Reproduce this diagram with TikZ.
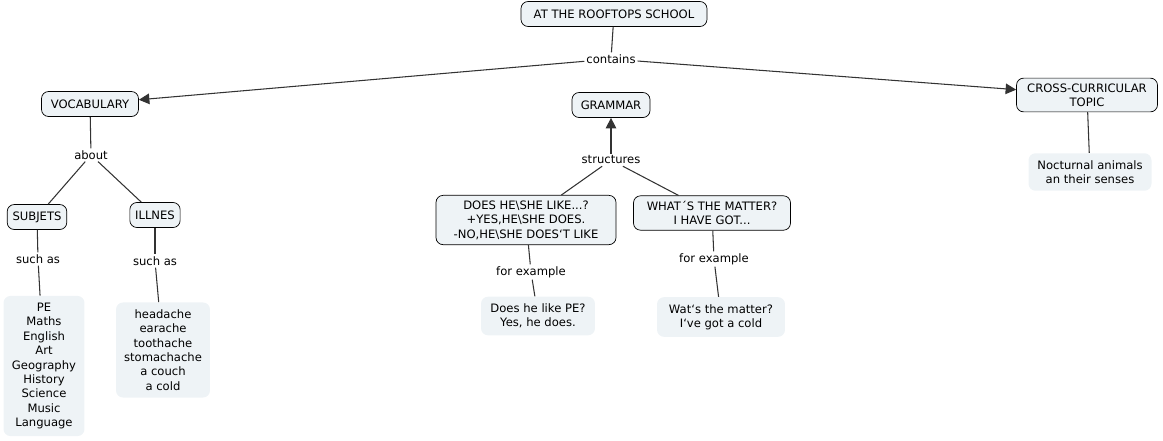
\documentclass[tikz,border=0pt]{standalone}
\usepackage{fontspec}
\setmainfont{DejaVu Sans}
\usetikzlibrary{arrows.meta}
\definecolor{boxfill}{HTML}{EEF3F6}
\begin{document}
\begin{tikzpicture}[x=0.02cm,y=-0.02cm,
  every node/.style={font=\fontsize{6.6pt}{8.2pt}\selectfont,align=center},
  concept/.style={draw=black,fill=boxfill,rounded corners=4pt,inner sep=3pt,minimum height=0.5cm},
  res/.style={fill=boxfill,rounded corners=4pt,inner sep=4pt},
  lbl/.style={fill=white,inner sep=1pt},
  link/.style={draw=black!80,line width=0.6pt},
  arr/.style={link,-{Triangle[length=6pt,width=6pt]}}]
\useasboundingbox (0,0) rectangle (1163,440);
\node[concept,minimum width=3.72cm] (root) at (614,14) {AT THE ROOFTOPS SCHOOL};
\node[lbl] (contains) at (611,59) {contains};
\node[concept,minimum width=1.94cm] (voc) at (90,104) {VOCABULARY};
\node[concept,minimum width=1.56cm] (gram) at (611,105) {GRAMMAR};
\node[concept,minimum width=2.82cm] (cross) at (1087,95) {CROSS-CURRICULAR\\TOPIC};
\node[res,minimum width=2.46cm] (noct) at (1090,172) {Nocturnal animals\\an their senses};
\node[lbl] (about) at (91,155) {about};
\node[concept] (subj) at (37,217) {SUBJETS};
\node[concept] (ill) at (155,215) {ILLNES};
\node[lbl] (such1) at (38,259) {such as};
\node[lbl] (such2) at (155,261) {such as};
\node[res,minimum width=1.62cm] (list1) at (44,366) {PE\\Maths\\English\\Art\\Geography\\History\\Science\\Music\\Language};
\node[res,minimum width=1.88cm] (list2) at (163,350) {headache\\earache\\toothache\\stomachache\\a couch\\a cold};
\node[lbl] (struct) at (611,160) {structures};
\node[concept,minimum width=3.6cm] (does) at (526,220) {DOES HE\textbackslash SHE LIKE...?\\+YES,HE\textbackslash SHE DOES.\\-NO,HE\textbackslash SHE DOES`T LIKE};
\node[concept,minimum width=3.14cm] (what) at (712,213) {WHAT´S THE MATTER?\\I HAVE GOT...};
\node[lbl] (ex1) at (531,272) {for example};
\node[lbl] (ex2) at (714,259) {for example};
\node[res,minimum width=2.28cm] (eg1) at (538,316) {Does he like PE?\\Yes, he does.};
\node[res,minimum width=2.56cm] (eg2) at (721,317) {Wat`s the matter?\\I`ve got a cold};
\draw[link] (root) -- (contains);
\draw[arr] (contains) -- (voc);
\draw[arr] (contains) -- (cross);
\draw[link] (cross) -- (noct);
\draw[link] (voc) -- (about);
\draw[link] (about) -- (subj);
\draw[link] (about) -- (ill);
\draw[link] (subj) -- (such1);
\draw[link] (such1) -- (list1);
\draw[link] (ill) -- (such2);
\draw[link] (such2) -- (list2);
\draw[arr] (struct) -- (gram);
\draw[link] (does) -- (struct);
\draw[link] (what) -- (struct);
\draw[link] (does) -- (ex1);
\draw[link] (ex1) -- (eg1);
\draw[link] (what) -- (ex2);
\draw[link] (ex2) -- (eg2);
\end{tikzpicture}
\end{document}
